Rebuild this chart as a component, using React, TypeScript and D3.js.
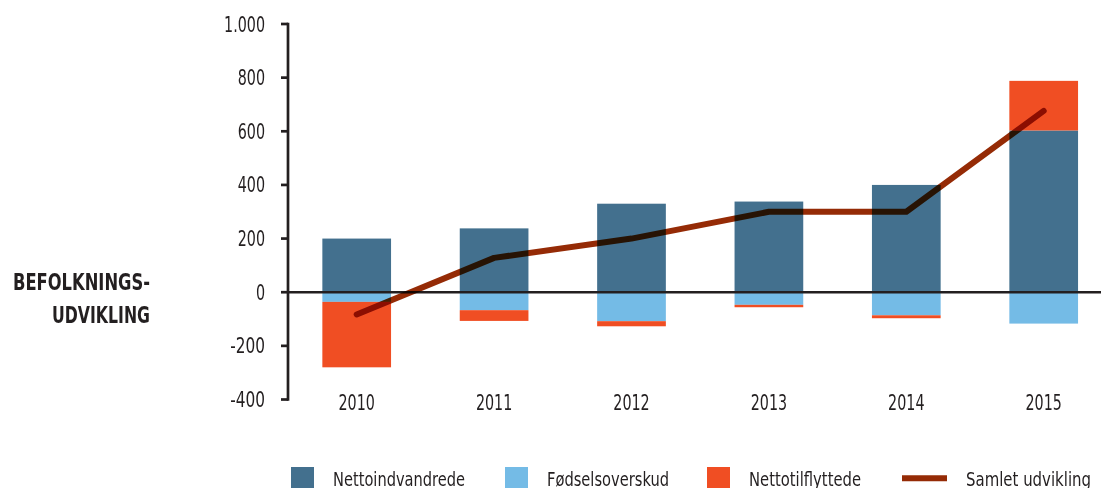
import { useEffect, useRef } from "react";
import * as d3 from "d3";

const years = ["2010", "2011", "2012", "2013", "2014", "2015"];
const nettoindvandrede = [200, 238, 330, 338, 400, 603];
const fodselsoverskud = [-36, -67, -108, -47, -86, -117];
const nettotilflyttede = [-244, -40, -19, -9, -11, 185];
const samletUdvikling = [-83, 128, 200, 300, 300, 676];
const yTicks = [-400, -200, 0, 200, 400, 600, 800, 1000];

const seriesKeys = ["Nettoindvandrede", "Fødselsoverskud", "Nettotilflyttede"];
const colors = ["#43708e", "#74bbe6", "#f04e23"];
const lineColor = "#952b06";
const FONT = "'Liberation Sans Narrow', 'DejaVu Sans Condensed', 'Arial Narrow', sans-serif";

const W = 1101;
const H = 488;

// narrow text width estimate, to mimic the condensed face of the original
function narrowWidth(s: string) {
  let w = 0;
  for (const ch of s) {
    if (ch === ".") w += 4.5;
    else if (ch === "-") w += 7.5;
    else w += 9.1;
  }
  return w;
}

export default function App() {
  const svgRef = useRef<SVGSVGElement>(null);

  useEffect(() => {
    if (!svgRef.current) return;
    const svg = d3.select(svgRef.current);
    svg.selectAll("*").remove();

    const axisX = 288;
    const x = d3
      .scaleBand()
      .domain(years)
      .range([axisX, axisX + 6 * 137.4])
      .paddingInner(0.5)
      .paddingOuter(0.25);
    const y = d3.scaleLinear().domain([-400, 1000]).range([399.5, 24]);

    const rows = years.map((yr, i) => ({
      year: yr,
      Nettoindvandrede: nettoindvandrede[i],
      Fødselsoverskud: fodselsoverskud[i],
      Nettotilflyttede: nettotilflyttede[i],
    }));
    const stacked = d3
      .stack<any>()
      .keys(seriesKeys)
      .offset(d3.stackOffsetDiverging)(rows);

    // ── bars ──────────────────────────────────────────
    stacked.forEach((s, si) => {
      svg
        .append("g")
        .selectAll("rect")
        .data(s)
        .enter()
        .append("rect")
        .attr("x", (d) => x(d.data.year) ?? 0)
        .attr("width", x.bandwidth())
        .attr("y", (d) => y(Math.max(d[0], d[1])))
        .attr("height", (d) => Math.abs(y(d[0]) - y(d[1])))
        .attr("fill", colors[si]);
    });

    // ── y axis ────────────────────────────────────────
    const axisG = svg.append("g");
    axisG
      .append("line")
      .attr("x1", axisX)
      .attr("x2", axisX)
      .attr("y1", y(1000) - 1.3)
      .attr("y2", y(-400) + 1.3)
      .attr("stroke", "#231f20")
      .attr("stroke-width", 2.7);
    axisG
      .selectAll(".tick")
      .data(yTicks)
      .enter()
      .append("line")
      .attr("x1", 281)
      .attr("x2", axisX)
      .attr("y1", (d) => y(d))
      .attr("y2", (d) => y(d))
      .attr("stroke", "#231f20")
      .attr("stroke-width", 2.7);
    axisG
      .selectAll(".lbl")
      .data(yTicks)
      .enter()
      .append("text")
      .attr("x", 265)
      .attr("y", (d) => y(d))
      .attr("dy", "0.36em")
      .attr("text-anchor", "end")
      .attr("font-family", FONT)
      .attr("font-size", 21)
      .attr("fill", "#231f20")
      .attr("lengthAdjust", "spacingAndGlyphs")
      .attr("textLength", (d) => narrowWidth(d === 1000 ? "1.000" : String(d)))
      .text((d) => (d === 1000 ? "1.000" : String(d)));

    // zero line
    svg
      .append("line")
      .attr("x1", axisX)
      .attr("x2", W)
      .attr("y1", y(0))
      .attr("y2", y(0))
      .attr("stroke", "#231f20")
      .attr("stroke-width", 2.5);

    // x labels
    svg
      .append("g")
      .selectAll("text")
      .data(years)
      .enter()
      .append("text")
      .attr("x", (d) => (x(d) ?? 0) + x.bandwidth() / 2)
      .attr("y", 410)
      .attr("text-anchor", "middle")
      .attr("font-family", FONT)
      .attr("font-size", 21)
      .attr("fill", "#231f20")
      .attr("lengthAdjust", "spacingAndGlyphs")
      .attr("textLength", (d) => narrowWidth(d))
      .text((d) => d);

    // ── total line ────────────────────────────────────
    const line = d3
      .line<number>()
      .x((_, i) => (x(years[i]) ?? 0) + x.bandwidth() / 2)
      .y((d) => y(d));
    svg
      .append("path")
      .attr("d", line(samletUdvikling))
      .attr("fill", "none")
      .attr("stroke", lineColor)
      .attr("stroke-width", 6)
      .attr("stroke-linecap", "round")
      .attr("stroke-linejoin", "round")
      .style("mix-blend-mode", "multiply");

    // ── title ─────────────────────────────────────────
    const title = svg
      .append("g")
      .attr("font-family", FONT)
      .attr("font-weight", "bold")
      .attr("font-size", 23)
      .attr("fill", "#231f20")
      .attr("text-anchor", "end");
    title
      .append("text")
      .attr("x", 150)
      .attr("y", 289.5)
      .attr("textLength", 137)
      .attr("lengthAdjust", "spacingAndGlyphs")
      .text("BEFOLKNINGS-");
    title
      .append("text")
      .attr("x", 150)
      .attr("y", 323)
      .attr("textLength", 98)
      .attr("lengthAdjust", "spacingAndGlyphs")
      .text("UDVIKLING");

    // ── legend ────────────────────────────────────────
    const legend = [
      { label: seriesKeys[0], sx: 291, tx: 333, tw: 132, kind: "rect", c: colors[0] },
      { label: seriesKeys[1], sx: 505, tx: 547, tw: 122, kind: "rect", c: colors[1] },
      { label: seriesKeys[2], sx: 707, tx: 749, tw: 112, kind: "rect", c: colors[2] },
      { label: "Samlet udvikling", sx: 902, tx: 966, tw: 125, kind: "line", c: lineColor },
    ];
    const lg = svg.append("g");
    legend.forEach((l) => {
      if (l.kind === "rect") {
        lg.append("rect")
          .attr("x", l.sx)
          .attr("y", 467)
          .attr("width", 23)
          .attr("height", 23)
          .attr("fill", l.c);
      } else {
        lg.append("line")
          .attr("x1", l.sx)
          .attr("x2", l.sx + 45)
          .attr("y1", 478.3)
          .attr("y2", 478.3)
          .attr("stroke", l.c)
          .attr("stroke-width", 6);
      }
      lg.append("text")
        .attr("x", l.tx)
        .attr("y", 485.5)
        .attr("font-family", FONT)
        .attr("font-size", 19)
        .attr("fill", "#231f20")
        .attr("textLength", l.tw)
        .attr("lengthAdjust", "spacingAndGlyphs")
        .text(l.label);
    });
  }, []);

  return (
    <svg
      ref={svgRef}
      width={W}
      height={H}
      style={{ position: "absolute", left: 0, top: 0, background: "#fff" }}
    />
  );
}
